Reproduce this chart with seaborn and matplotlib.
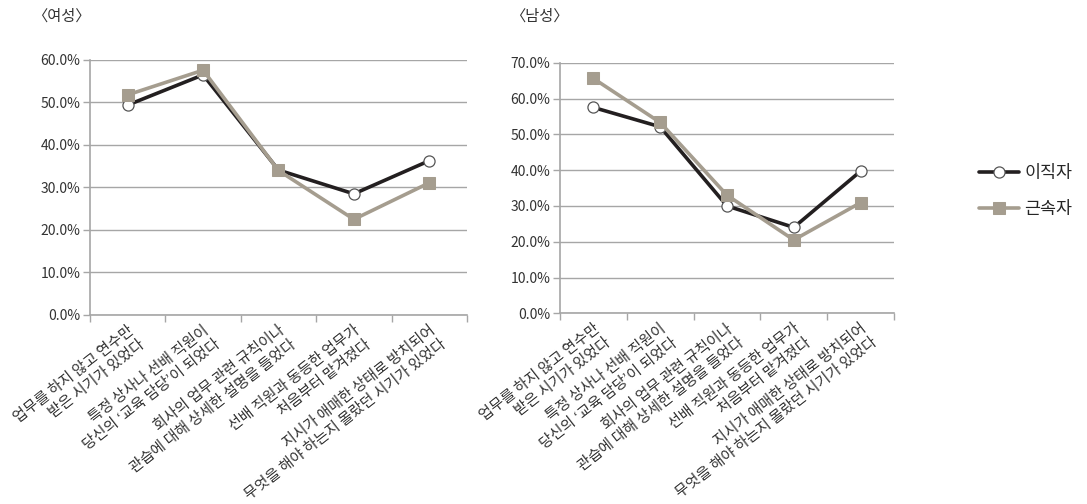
import numpy as np
import pandas as pd
import matplotlib
matplotlib.use("Agg")
import matplotlib.pyplot as plt
from matplotlib.ticker import FuncFormatter, FixedLocator
import seaborn as sns

# Survey items (x-axis categories)
categories = [
    "업무를 하지 않고 연수만\n받은 시기가 있었다",
    "특정 상사나 선배 직원이\n당신의 ‘교육 담당’이 되었다",
    "회사의 업무 관련 규칙이나\n관습에 대해 상세한 설명을 들었다",
    "선배 직원과 동등한 업무가\n처음부터 맡겨졌다",
    "지시가 애매한 상태로 방치되어\n무엇을 해야 하는지 몰랐던 시기가 있었다",
]
series_names = ["이직자", "근속자"]

# Shares (%) by group
female_leavers = [49.4, 56.5, 34.1, 28.5, 36.3]
female_stayers = [51.8, 57.6, 34.0, 22.5, 31.1]
male_leavers = [57.5, 52.1, 30.0, 24.0, 39.7]
male_stayers = [65.6, 53.3, 33.0, 20.5, 30.9]

panel_titles = ["〈여성〉", "〈남성〉"]
y_max = [60, 70]

sns.set_theme(style="white")
plt.rcParams["font.family"] = ["Noto Sans CJK KR", "DejaVu Sans"]

fig = plt.figure(figsize=(10.87, 5.04), dpi=100)
ax_f = fig.add_axes([0.0828, 0.375, 0.3468, 0.506])
ax_m = fig.add_axes([0.5152, 0.3783, 0.3072, 0.4973])

dark = "#231f20"
tan = "#a59d8f"
grid_c = "#a6a6a6"
text_c = "#333333"

def draw_panel(ax, leavers, stayers, ymax, title, title_x):
    df = pd.DataFrame({
        "pos": list(range(len(categories))) * 2,
        "value": list(leavers) + list(stayers),
        "group": [series_names[0]] * len(leavers) + [series_names[1]] * len(stayers),
    })
    sns.lineplot(data=df[df.group == series_names[0]], x="pos", y="value", ax=ax,
                 color=dark, linewidth=2.6, marker="o", markersize=8,
                 markerfacecolor="white", markeredgecolor="#555555",
                 markeredgewidth=0.9, label=series_names[0], zorder=3)
    sns.lineplot(data=df[df.group == series_names[1]], x="pos", y="value", ax=ax,
                 color=tan, linewidth=2.6, marker="s", markersize=9,
                 markerfacecolor=tan, markeredgecolor=tan,
                 label=series_names[1], zorder=4)
    ax.set_xlim(-0.5, len(categories) - 0.5)
    ax.set_ylim(0, ymax)
    ax.set_yticks(np.arange(0, ymax + 1, 10))
    ax.yaxis.set_major_formatter(FuncFormatter(lambda v, _: f"{v:.1f}%"))
    ax.yaxis.grid(True, color=grid_c, linewidth=1.0)
    ax.set_axisbelow(True)
    ax.set_xticks(range(len(categories)))
    ax.set_xticklabels(categories, rotation=38, ha="right", rotation_mode="anchor",
                       multialignment="right", fontsize=10.8, color=text_c,
                       linespacing=1.35)
    ax.xaxis.set_minor_locator(FixedLocator(np.arange(-0.5, len(categories), 1.0)))
    ax.tick_params(axis="x", which="major", length=0, pad=6)
    ax.tick_params(axis="x", which="minor", length=5, width=1, color=grid_c, direction="out", bottom=True)
    ax.tick_params(axis="y", length=5, width=1, color=grid_c, direction="out", left=True,
                   labelsize=10, labelcolor=text_c, pad=2)
    for side in ["top", "right"]:
        ax.spines[side].set_visible(False)
    for side in ["left", "bottom"]:
        ax.spines[side].set_color(grid_c)
        ax.spines[side].set_linewidth(1.2)
    ax.set_xlabel("")
    ax.set_ylabel("")
    ax.get_legend().remove()
    fig.text(title_x, 1 - 16 / 504, title, fontsize=11, color=text_c, va="center")

draw_panel(ax_f, female_leavers, female_stayers, y_max[0], panel_titles[0], 32 / 1087)
draw_panel(ax_m, male_leavers, male_stayers, y_max[1], panel_titles[1], 510 / 1087)

handles, labels = ax_m.get_legend_handles_labels()
fig.legend(handles, labels, loc="center left", bbox_to_anchor=(972 / 1087, 1 - 191 / 504),
           frameon=False, fontsize=12.5, handlelength=2.3, labelspacing=1.05,
           handletextpad=0.3, borderaxespad=0)

fig.savefig("out.png", dpi=100, facecolor="white")
